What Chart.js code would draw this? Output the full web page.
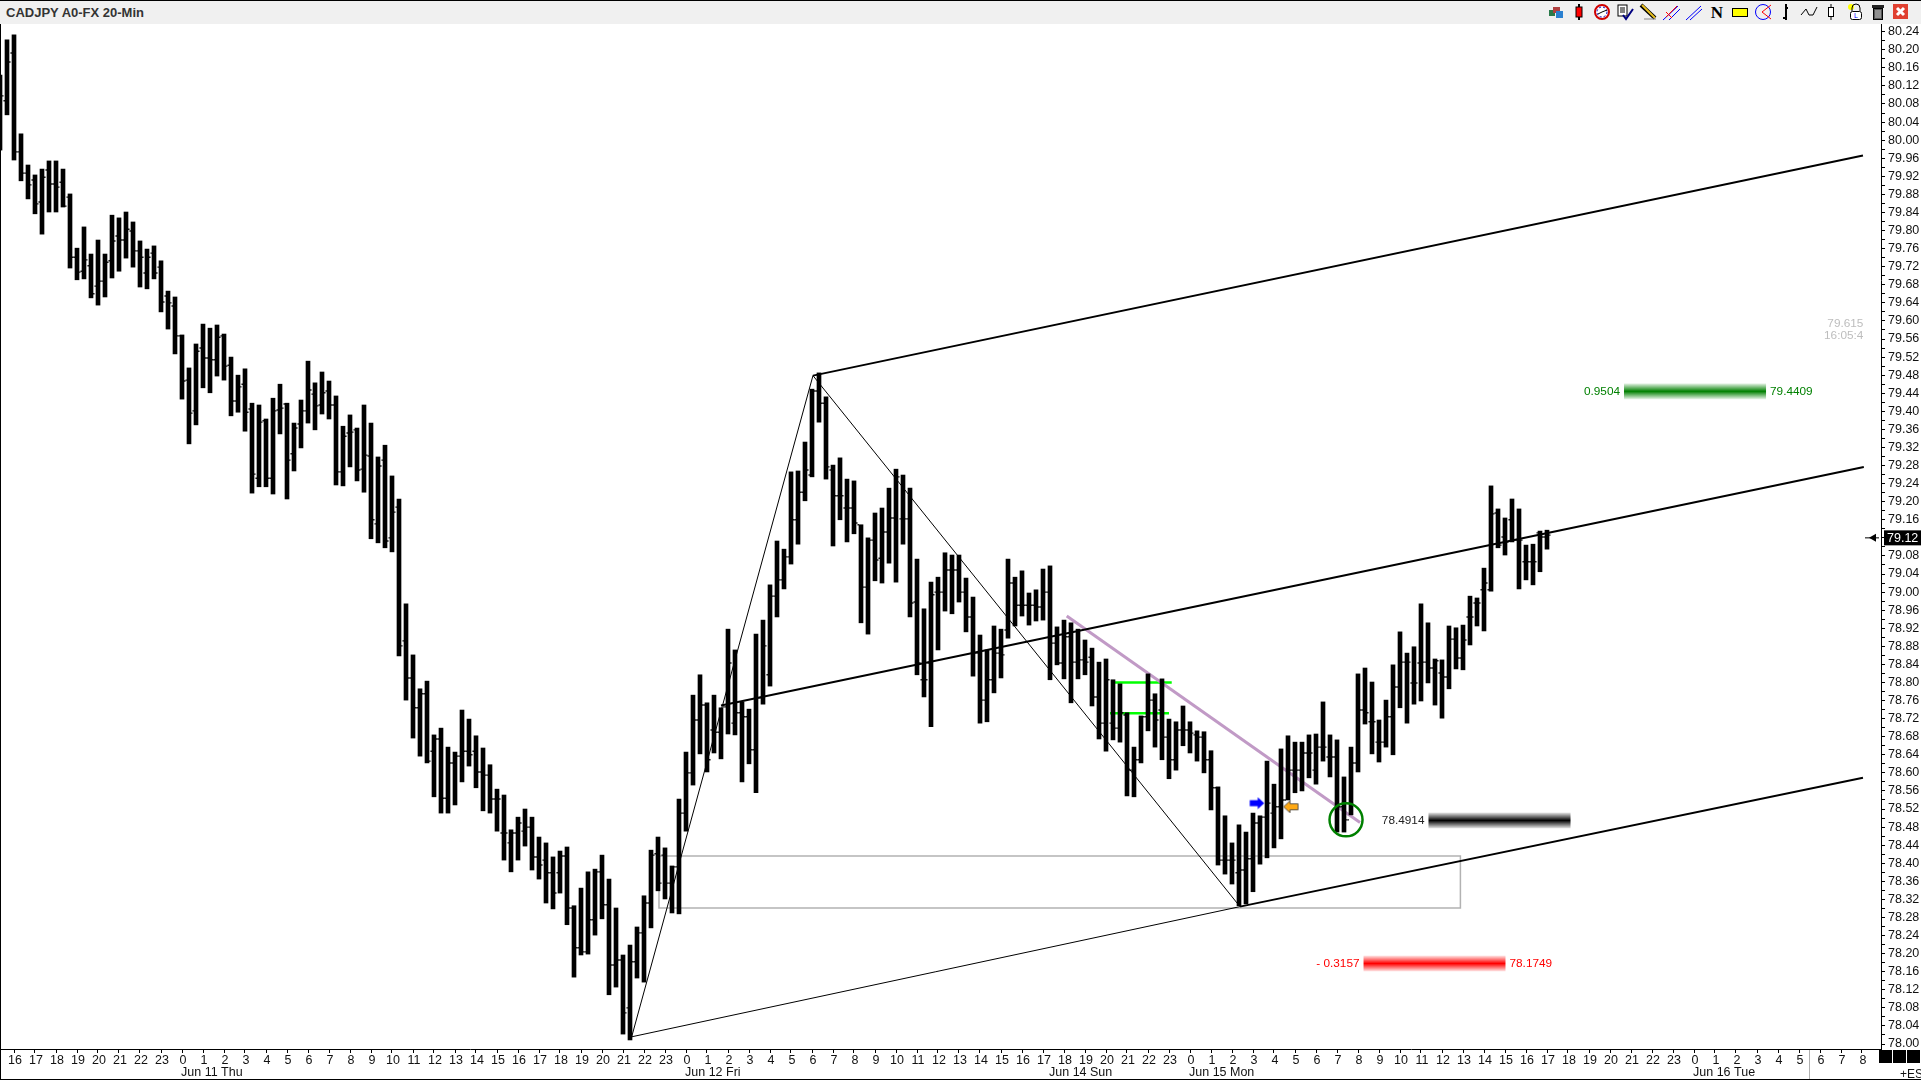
<!DOCTYPE html>
<html>
<head>
<meta charset="utf-8">
<title>CADJPY A0-FX 20-Min</title>
<script src="https://cdn.jsdelivr.net/npm/chart.js@4"></script>
<style>
  html, body { margin: 0; padding: 0; background: #fff; overflow: hidden; }
  body { width: 1921px; height: 1080px; position: relative; font-family: "Liberation Sans", Arial, sans-serif; }
  #toolbar { position: absolute; left: 0; top: 0; width: 1921px; height: 23px; background: #f0f0f0; border-top: 1px solid #000; }
  #title { position: absolute; left: 6px; top: 4px; font-size: 13px; font-weight: bold; color: #333; white-space: nowrap; }
  #icons { position: absolute; left: 0; top: 0; }
  #chart { position: absolute; left: 0; top: 24px; }
  .edge { position: absolute; background: #000; }
  #sep { position: absolute; left: 1809px; top: 1050px; width: 1px; height: 29px; background: #b0b0b0; }
  .sq { position: absolute; top: 1050px; width: 13px; height: 13px; background: #000; }
  #es { position: absolute; left: 1900px; top: 1067px; font-size: 12px; color: #111; }
</style>
</head>
<body>
<canvas id="chart" width="1921" height="1056"></canvas>
<div id="toolbar">
  <div id="title">CADJPY A0-FX 20-Min</div>
</div>
<svg id="icons" width="1921" height="24" xmlns="http://www.w3.org/2000/svg">
  <rect x="1549" y="10" width="6" height="6" fill="#2a7a4a"/><rect x="1553" y="7" width="7" height="6" fill="#b04040"/><rect x="1556" y="11" width="7" height="7" fill="#2a80d0"/>
  <line x1="1579" y1="4" x2="1579" y2="20" stroke="#000" stroke-width="2"/><rect x="1576" y="7" width="6" height="10" fill="#f00" stroke="#000"/>
  <circle cx="1602" cy="12" r="7" fill="#fff" stroke="#d00000" stroke-width="2"/><circle cx="1602" cy="12" r="5" fill="none" stroke="#0000c0" stroke-dasharray="2 2"/><path d="M1602 12 L1607 10 M1602 12 L1598 14" stroke="#000"/>
  <rect x="1618" y="5" width="9" height="11" fill="#fff" stroke="#000"/><path d="M1620 8h5M1620 10h5M1620 12h5" stroke="#000"/><path d="M1623 15 L1626 19 L1633 9" fill="none" stroke="#000080" stroke-width="2"/>
  <path d="M1641 5 L1655 18" stroke="#000" stroke-width="4"/><path d="M1642 5 L1655 18" stroke="#e8c020" stroke-width="2"/><line x1="1644" y1="19" x2="1656" y2="19" stroke="#888"/>
  <path d="M1663 20 L1678 6 M1669 20 L1680 9" stroke="#00f"/><path d="M1666 17 L1677 6 M1666 12 L1672 18" stroke="#f00"/>
  <path d="M1686 20 L1701 6 M1690 20 L1702 9" stroke="#00f"/>
  <text x="1717" y="18" font-family="Liberation Serif" font-weight="bold" font-size="17" text-anchor="middle" fill="#000">N</text>
  <rect x="1732.5" y="8.5" width="15" height="8" fill="#ff0" stroke="#000"/>
  <circle cx="1763" cy="12" r="7.5" fill="none" stroke="#00f"/><path d="M1771 5 L1762 12 L1771 19" fill="none" stroke="#f00"/>
  <path d="M1786 4 V20" stroke="#000" stroke-width="2"/><path d="M1786 8 h2 M1783 18 h3" stroke="#000" stroke-width="2"/>
  <path d="M1801 15 L1806 9 L1809 15 L1813 15 L1817 7" fill="none" stroke="#000"/>
  <line x1="1831" y1="4" x2="1831" y2="20" stroke="#000"/><rect x="1828.5" y="7.5" width="5" height="9" fill="#fff" stroke="#000"/>
  <circle cx="1851" cy="7" r="3" fill="#ff0"/><path d="M1852 11 v-3 a4 4 0 0 1 8 0 v3" fill="none" stroke="#000"/><rect x="1850.5" y="11.5" width="11" height="8" rx="2" fill="#fff" stroke="#000"/><text x="1856" y="18" font-family="Liberation Sans" font-size="7" text-anchor="middle" fill="#00f">L</text>
  <rect x="1873.5" y="8.5" width="9" height="11" fill="#555" stroke="#000"/><rect x="1872" y="5" width="12" height="3" fill="#222"/><path d="M1876 10v8M1878 10v8M1880 10v8" stroke="#ccc"/>
  <rect x="1893" y="4" width="15" height="15" fill="#e04030"/><path d="M1897 8 L1904 15 M1904 8 L1897 15" stroke="#fff" stroke-width="3"/>
</svg>
<div class="edge" style="left:0;top:24px;width:1px;height:1056px"></div>
<div class="edge" style="left:0;top:1079px;width:1921px;height:1px"></div>
<div id="sep"></div>
<div class="sq" style="left:1879px"></div>
<div class="sq" style="left:1893px"></div>
<div class="sq" style="left:1907px"></div>
<div id="es">+ES</div>

<script>
// one bar every 20 minutes
const highs = [80.144,80.222,80.233,80.014,79.945,79.923,79.936,79.954,79.954,79.936,79.881,79.761,79.808,79.748,79.779,79.748,79.834,79.828,79.841,79.819,79.777,79.759,79.766,79.733,79.666,79.653,79.569,79.496,79.549,79.593,79.584,79.591,79.571,79.520,79.480,79.494,79.418,79.414,79.383,79.429,79.460,79.418,79.374,79.425,79.511,79.463,79.487,79.467,79.434,79.367,79.392,79.363,79.414,79.374,79.299,79.325,79.257,79.206,78.974,78.861,78.786,78.803,78.684,78.699,78.657,78.646,78.739,78.719,78.682,78.655,78.618,78.564,78.551,78.474,78.502,78.520,78.502,78.458,78.445,78.414,78.427,78.436,78.306,78.345,78.381,78.387,78.418,78.365,78.301,78.197,78.219,78.259,78.328,78.429,78.458,78.434,78.394,78.542,78.646,78.772,78.817,78.755,78.772,78.744,78.918,78.872,78.757,78.741,78.907,78.938,79.016,79.113,79.095,79.266,79.268,79.332,79.449,79.485,79.432,79.281,79.297,79.250,79.246,79.149,79.120,79.175,79.186,79.230,79.272,79.259,79.230,79.073,78.963,79.022,79.033,79.087,79.082,79.082,79.031,78.989,78.905,78.872,78.925,78.918,79.073,79.033,79.047,78.998,79.005,79.051,79.058,78.923,78.938,78.932,78.918,78.894,78.876,78.845,78.852,78.806,78.797,78.733,78.657,78.726,78.819,78.775,78.808,78.719,78.713,78.748,78.713,78.693,78.691,78.649,78.569,78.505,78.445,78.485,78.469,78.511,78.505,78.626,78.575,78.653,78.682,78.668,78.668,78.684,78.686,78.757,78.684,78.673,78.591,78.657,78.819,78.832,78.801,78.717,78.761,78.839,78.912,78.865,78.879,78.974,78.932,78.852,78.850,78.925,78.921,78.927,78.991,78.987,79.053,79.235,79.184,79.164,79.206,79.184,79.104,79.106,79.135,79.137];
const lows = [79.978,80.056,79.956,79.910,79.870,79.837,79.792,79.841,79.841,79.852,79.717,79.691,79.693,79.651,79.635,79.653,79.695,79.710,79.739,79.719,79.675,79.671,79.693,79.620,79.582,79.527,79.427,79.328,79.370,79.452,79.441,79.478,79.469,79.390,79.398,79.356,79.219,79.233,79.233,79.217,79.350,79.206,79.268,79.319,79.374,79.359,79.394,79.383,79.237,79.235,79.277,79.246,79.221,79.118,79.109,79.098,79.089,78.859,78.761,78.677,78.637,78.622,78.547,78.511,78.511,78.529,78.580,78.615,78.567,78.516,78.511,78.471,78.407,78.381,78.407,78.438,78.385,78.365,78.312,78.299,78.334,78.264,78.148,78.197,78.199,78.241,78.277,78.109,78.126,78.022,78.009,78.146,78.137,78.257,78.339,78.321,78.290,78.288,78.471,78.573,78.642,78.602,78.644,78.631,78.686,78.684,78.580,78.620,78.556,78.752,78.792,78.945,79.007,79.062,79.106,79.202,79.255,79.376,79.250,79.102,79.160,79.111,79.129,78.932,78.907,79.025,79.020,79.064,79.022,79.106,78.945,78.817,78.768,78.702,78.872,78.958,78.952,78.978,78.912,78.814,78.710,78.713,78.777,78.810,78.898,78.925,78.947,78.927,78.936,78.938,78.806,78.839,78.808,78.755,78.808,78.817,78.748,78.675,78.648,78.673,78.668,78.549,78.547,78.622,78.693,78.657,78.629,78.587,78.606,78.660,78.644,78.626,78.600,78.518,78.396,78.376,78.354,78.306,78.310,78.337,78.398,78.412,78.434,78.454,78.540,78.556,78.560,78.589,78.575,78.626,78.591,78.469,78.469,78.507,78.602,78.708,78.642,78.624,78.657,78.640,78.744,78.710,78.752,78.759,78.799,78.750,78.721,78.786,78.830,78.828,78.883,78.925,78.914,79.002,79.098,79.082,79.111,79.007,79.027,79.016,79.045,79.095];
const opens = [80.098,80.087,80.193,79.974,79.927,79.912,79.863,79.934,79.903,79.907,79.874,79.741,79.710,79.722,79.677,79.688,79.733,79.788,79.779,79.799,79.755,79.706,79.750,79.719,79.655,79.633,79.567,79.469,79.401,79.540,79.518,79.514,79.567,79.502,79.423,79.460,79.405,79.252,79.379,79.252,79.403,79.416,79.306,79.372,79.401,79.438,79.414,79.445,79.414,79.266,79.352,79.359,79.272,79.301,79.151,79.292,79.120,79.188,78.892,78.810,78.744,78.775,78.648,78.675,78.544,78.622,78.637,78.648,78.648,78.602,78.595,78.542,78.467,78.445,78.467,78.471,78.480,78.414,78.407,78.379,78.379,78.416,78.301,78.213,78.204,78.275,78.381,78.308,78.175,78.186,78.080,78.182,78.246,78.312,78.421,78.418,78.356,78.392,78.511,78.600,78.717,78.750,78.695,78.690,78.746,78.710,78.733,78.724,78.651,78.766,78.817,78.991,79.027,79.078,79.160,79.221,79.259,79.445,79.418,79.270,79.213,79.186,79.186,79.149,79.011,79.115,79.075,79.133,79.164,79.162,79.162,78.978,78.806,78.843,79.000,79.000,79.049,79.049,79.000,78.945,78.865,78.761,78.806,78.865,78.916,79.020,78.971,78.971,78.971,78.967,79.000,78.887,78.843,78.901,78.845,78.850,78.856,78.768,78.710,78.710,78.699,78.728,78.606,78.629,78.724,78.761,78.739,78.679,78.629,78.695,78.695,78.684,78.679,78.629,78.567,78.407,78.407,78.379,78.385,78.410,78.489,78.502,78.511,78.525,78.540,78.606,78.606,78.644,78.606,78.657,78.635,78.635,78.525,78.496,78.622,78.739,78.713,78.668,78.668,78.724,78.790,78.845,78.799,78.843,78.845,78.832,78.821,78.812,78.896,78.854,78.945,78.976,79.005,79.005,79.175,79.122,79.160,79.115,79.067,79.067,79.131,79.122];
const closes = [80.098,80.173,79.974,79.927,79.901,79.859,79.918,79.903,79.896,79.854,79.741,79.708,79.735,79.660,79.688,79.730,79.777,79.779,79.803,79.755,79.741,79.741,79.706,79.642,79.640,79.567,79.467,79.396,79.533,79.518,79.514,79.564,79.500,79.423,79.454,79.398,79.261,79.376,79.252,79.401,79.407,79.292,79.363,79.401,79.447,79.412,79.441,79.414,79.266,79.345,79.354,79.270,79.303,79.160,79.279,79.113,79.177,78.881,78.810,78.744,78.775,78.626,78.675,78.544,78.622,78.637,78.648,78.640,78.602,78.595,78.542,78.542,78.467,78.467,78.489,78.480,78.414,78.396,78.379,78.334,78.416,78.301,78.213,78.204,78.275,78.381,78.308,78.175,78.186,78.069,78.182,78.246,78.312,78.418,78.356,78.356,78.392,78.511,78.600,78.717,78.750,78.629,78.690,78.746,78.843,78.733,78.724,78.651,78.766,78.881,78.991,79.027,79.078,79.160,79.221,79.270,79.445,79.418,79.277,79.213,79.213,79.186,79.153,79.011,79.115,79.071,79.133,79.164,79.255,79.162,78.976,78.843,78.806,78.994,79.000,79.049,79.049,79.000,78.945,78.865,78.761,78.806,78.865,78.861,79.020,78.971,78.971,78.971,78.967,79.000,78.887,78.843,78.901,78.845,78.850,78.845,78.768,78.710,78.806,78.699,78.733,78.606,78.629,78.724,78.761,78.717,78.679,78.629,78.695,78.695,78.688,78.679,78.629,78.567,78.407,78.407,78.407,78.385,78.410,78.489,78.502,78.533,78.525,78.540,78.606,78.606,78.644,78.644,78.657,78.657,78.635,78.525,78.496,78.622,78.739,78.733,78.713,78.668,78.724,78.790,78.845,78.845,78.799,78.845,78.832,78.848,78.812,78.896,78.854,78.894,78.945,78.976,79.020,79.173,79.104,79.111,79.115,79.115,79.067,79.067,79.122,79.126];

// hour labels along the time axis, first one sits on bar 2, then every 3 bars
const hourLabels = ['16','17','18','19','20','21','22','23',
  '0','1','2','3','4','5','6','7','8','9','10','11','12','13','14','15','16','17','18','19','20','21','22','23',
  '0','1','2','3','4','5','6','7','8','9','10','11','12','13','14','15','16','17','18','19','20','21','22','23',
  '0','1','2','3','4','5','6','7','8','9','10','11','12','13','14','15','16','17','18','19','20','21','22','23',
  '0','1','2','3','4','5','6','7','8'];
const hourTicks = hourLabels.map((_, k) => 2 + k * 3);

const dayLabels = ['Jun 11 Thu', 'Jun 12 Fri', 'Jun 14 Sun', 'Jun 15 Mon', 'Jun 16 Tue'];
const dayBars = [26, 98, 150, 170, 242];

const lastPrice = 79.12;

// drawn lines, [bar, price] at both ends
const forkTop = [[116.14, 79.479], [266.14, 79.966]];
const forkMid = [[103, 78.749], [266.26, 79.277]];
const forkLow = [[177.14, 78.304], [266.14, 78.589]];
const forkBase = [[90.24, 78.016], [177.14, 78.304]];
const swingUp = [[90.24, 78.016], [116.14, 79.479]];
const swingDown = [[116.14, 79.479], [177.14, 78.304]];
const trendLine = [[152.39, 78.947], [194.29, 78.490]];
const greenUpper = [[159.29, 78.800], [167.39, 78.800]];
const greenLower = [[158.57, 78.732], [167, 78.732]];
const boxLines = [[94.14, 78.416], [208.63, 78.416], [208.63, 78.301], [94.14, 78.301], [94.14, 78.416]];

// measure bands
const bandStart = [232, 204.07, 194.79];
const bandEnd = [252.29, 224.36, 215.07];
const bandPrice = [79.4409, 78.4914, 78.1749];
const bandColor = ['0,128,0', '0,0,0', '255,0,0'];
const bandText = ['79.4409', '78.4914', '78.1749'];
const moveText = ['0.9504', '', '- 0.3157'];

const toXY = pts => pts.map(p => ({ x: p[0], y: p[1] }));

function lineSet(pts, color, width, order) {
  return {
    type: 'scatter',
    data: toXY(pts),
    showLine: true,
    borderColor: color,
    borderWidth: width,
    pointRadius: 0,
    order: order,
  };
}

function tickSet(values, shift) {
  return {
    type: 'scatter',
    data: values.map((v, i) => ({ x: i + shift, y: v })),
    pointStyle: 'rect',
    pointRadius: 1,
    pointBorderWidth: 0,
    backgroundColor: '#000',
    borderWidth: 0,
    order: 4,
  };
}

function arrowCanvas(fill, outline, dir) {
  const c = document.createElement('canvas');
  c.width = 17;
  c.height = 13;
  const g = c.getContext('2d');
  g.translate(dir < 0 ? 17 : 0, 0);
  g.scale(dir, 1);
  g.beginPath();
  g.moveTo(1.5, 3.5);
  g.lineTo(9.5, 3.5);
  g.lineTo(9.5, 0.5);
  g.lineTo(16, 6.5);
  g.lineTo(9.5, 12.5);
  g.lineTo(9.5, 9.5);
  g.lineTo(1.5, 9.5);
  g.closePath();
  g.fillStyle = fill;
  g.fill();
  if (outline) {
    g.strokeStyle = outline;
    g.lineWidth = 0.8;
    g.stroke();
  }
  return c;
}

const font = '12.5px "Liberation Sans", Arial, sans-serif';

// no room kept for labels that hang over the plot edges
function noMargins(scale) {
  scale.paddingLeft = 0;
  scale.paddingRight = 0;
  scale.paddingTop = 0;
  scale.paddingBottom = 0;
}

// gradient bands, texts and the last price box
const extrasPlugin = {
  id: 'extras',
  beforeDatasetsDraw(chart) {
    const ctx = chart.ctx;
    const x = chart.scales.x;
    const y = chart.scales.y;
    bandPrice.forEach((price, k) => {
      const mid = y.getPixelForValue(price) - 1.5;
      const left = x.getPixelForValue(bandStart[k]);
      const right = x.getPixelForValue(bandEnd[k]);
      const grad = ctx.createLinearGradient(0, mid - 8, 0, mid + 8);
      grad.addColorStop(0, `rgba(${bandColor[k]},0.08)`);
      grad.addColorStop(0.5, `rgba(${bandColor[k]},1)`);
      grad.addColorStop(1, `rgba(${bandColor[k]},0.08)`);
      ctx.fillStyle = grad;
      ctx.fillRect(left, mid - 8, right - left, 16);
    });
  },
  afterDraw(chart) {
    const ctx = chart.ctx;
    const x = chart.scales.x;
    const y = chart.scales.y;
    ctx.save();
    ctx.textBaseline = 'middle';
    ctx.font = '11.8px "Liberation Sans", Arial, sans-serif';
    bandPrice.forEach((price, k) => {
      const mid = y.getPixelForValue(price) - 1.5;
      const left = x.getPixelForValue(bandStart[k]);
      const right = x.getPixelForValue(bandEnd[k]);
      ctx.fillStyle = k === 1 ? '#222' : `rgb(${bandColor[k]})`;
      if (k === 1) {
        ctx.textAlign = 'right';
        ctx.fillText(bandText[k], left - 4, mid);
      } else {
        ctx.textAlign = 'left';
        ctx.fillText(bandText[k], right + 4, mid);
        ctx.textAlign = 'right';
        ctx.fillText(moveText[k], left - 4, mid);
      }
    });

    // clock readout in grey
    ctx.textAlign = 'right';
    ctx.fillStyle = '#bdbdbd';
    ctx.fillText('79.615', x.getPixelForValue(266.2), y.getPixelForValue(79.594));
    ctx.fillText('16:05:4', x.getPixelForValue(266.2), y.getPixelForValue(79.567));

    // day names under the hours
    ctx.font = font;
    ctx.textAlign = 'left';
    ctx.fillStyle = '#111';
    dayLabels.forEach((d, k) => {
      ctx.fillText(d, x.getPixelForValue(dayBars[k]) - 1, 1049);
    });

    // last price on the axis
    const py = y.getPixelForValue(lastPrice);
    ctx.fillStyle = '#000';
    ctx.fillRect(1884, py - 7.5, 37, 15);
    ctx.fillStyle = '#fff';
    ctx.textAlign = 'left';
    ctx.fillText(lastPrice.toFixed(2), 1887, py + 0.5);
    ctx.fillStyle = '#000';
    ctx.fillRect(1865, py - 0.5, 14, 1);
    ctx.beginPath();
    ctx.moveTo(1869, py);
    ctx.lineTo(1876, py - 4);
    ctx.lineTo(1876, py + 4);
    ctx.closePath();
    ctx.fill();
    ctx.restore();
  },
};

const ctx = document.getElementById('chart').getContext('2d');

new Chart(ctx, {
  type: 'bar',
  data: {
    datasets: [
      {
        type: 'bar',
        data: highs.map((h, i) => ({ x: i, y: [lows[i], h] })),
        backgroundColor: '#000',
        borderWidth: 0,
        barThickness: 4,
        order: 5,
      },
      tickSet(opens, -0.4),
      tickSet(closes, 0.4),
      lineSet(boxLines, '#b2b2b2', 1.5, 9),
      lineSet(greenUpper, '#00ff00', 2.5, 8),
      lineSet(greenLower, '#00ff00', 2.5, 8),
      lineSet(trendLine, '#c19ac6', 3, 7),
      lineSet(forkTop, '#000', 2, 3),
      lineSet(forkMid, '#000', 2, 3),
      lineSet(forkLow, '#000', 2, 3),
      lineSet(forkBase, '#000', 1, 3),
      lineSet(swingUp, '#000', 1, 3),
      lineSet(swingDown, '#000', 1, 3),
      {
        type: 'scatter',
        data: [{ x: 192.29, y: 78.496 }],
        pointRadius: 16.5,
        pointBorderWidth: 2.5,
        pointBackgroundColor: 'rgba(0,0,0,0)',
        pointBorderColor: '#008000',
        order: 2,
      },
      {
        type: 'scatter',
        data: [{ x: 179.53, y: 78.533 }],
        pointStyle: arrowCanvas('#0000ff', null, 1),
        pointRadius: 6,
        order: 1,
      },
      {
        type: 'scatter',
        data: [{ x: 184.43, y: 78.525 }],
        pointStyle: arrowCanvas('#ffa914', '#333', -1),
        pointRadius: 6,
        order: 1,
      },
    ],
  },
  options: {
    responsive: false,
    animation: false,
    events: [],
    layout: { padding: 0, autoPadding: false },
    plugins: {
      legend: { display: false },
      title: { display: false },
      tooltip: { enabled: false },
    },
    scales: {
      x: {
        type: 'linear',
        position: 'bottom',
        offset: false,
        min: 0,
        max: 1881 / 7,
        afterFit(scale) { scale.height = 31; noMargins(scale); },
        afterBuildTicks(scale) { scale.ticks = hourTicks.map(v => ({ value: v })); },
        border: { color: '#000', width: 1 },
        grid: { offset: false, drawOnChartArea: false, drawTicks: true, tickLength: 4, color: '#000' },
        ticks: {
          autoSkip: false,
          maxRotation: 0,
          minRotation: 0,
          padding: 0,
          labelOffset: 1,
          color: '#111',
          font: { family: '"Liberation Sans", Arial, sans-serif', size: 12.5 },
          callback: (value, index) => hourLabels[index],
        },
      },
      y: {
        type: 'linear',
        position: 'right',
        min: 77.989,
        max: 80.257,
        afterFit(scale) { scale.width = 40; noMargins(scale); },
        border: { color: '#000', width: 1 },
        grid: { drawOnChartArea: false, drawTicks: true, tickLength: 4, color: '#000' },
        ticks: {
          stepSize: 0.02,
          autoSkip: false,
          includeBounds: false,
          padding: 3,
          color: '#111',
          font: { family: '"Liberation Sans", Arial, sans-serif', size: 12.5 },
          callback: value => (Math.round(value * 100) % 4 === 0 ? value.toFixed(2) : ''),
        },
      },
    },
  },
  plugins: [extrasPlugin],
});
</script>
</body>
</html>
